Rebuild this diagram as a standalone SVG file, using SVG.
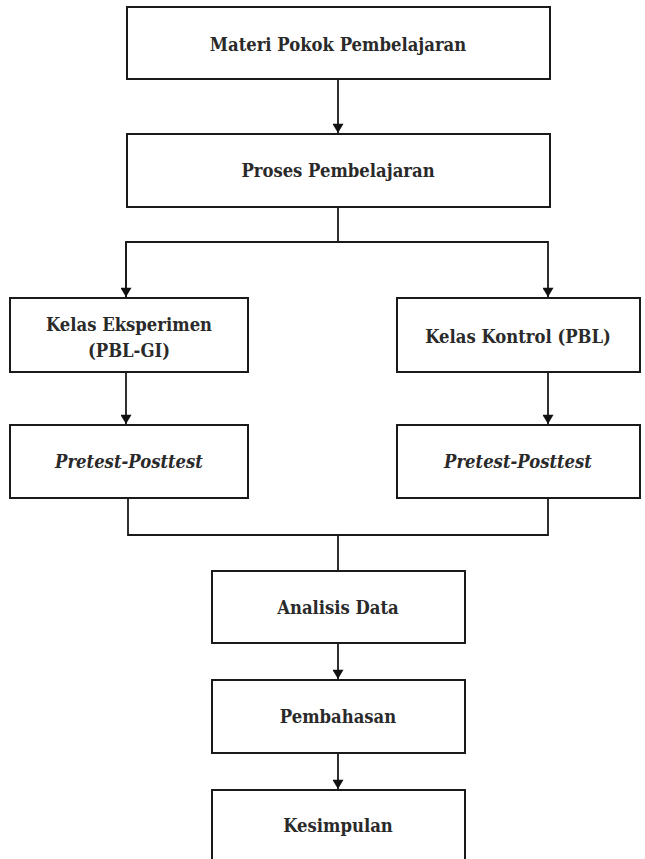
<svg xmlns="http://www.w3.org/2000/svg" width="645" height="859" viewBox="0 0 645 859">
<defs>
<style>
.box{fill:#fff;stroke:#1a1a1a;stroke-width:2}
.ln{fill:none;stroke:#1a1a1a;stroke-width:1.8}
.t{font-family:"DejaVu Serif Condensed","DejaVu Serif","Liberation Serif",serif;font-weight:bold;font-size:18.3px;fill:#2a2a2a;text-anchor:middle;dominant-baseline:central}
.i{font-style:italic}
</style>
<marker id="ah" viewBox="0 0 10 12" refX="10" refY="6" markerWidth="12" markerHeight="11" markerUnits="userSpaceOnUse" orient="auto">
<path d="M0,0 L10,6 L0,12 z" fill="#111"/>
</marker>
</defs>
<rect width="645" height="859" fill="#fff"/>
<g id="connectors">
<line class="ln" x1="338" y1="79" x2="338" y2="133" marker-end="url(#ah)"/>
<polyline class="ln" points="338,207 338,242"/>
<polyline class="ln" points="126,297 126,242 548,242 548,297" marker-end="url(#ah)"/>
<line class="ln" x1="126" y1="242" x2="126" y2="297" marker-end="url(#ah)"/>
<line class="ln" x1="126" y1="372" x2="126" y2="424" marker-end="url(#ah)"/>
<line class="ln" x1="548" y1="372" x2="548" y2="424" marker-end="url(#ah)"/>
<polyline class="ln" points="128,498 128,535 548,535 548,498"/>
<line class="ln" x1="338" y1="535" x2="338" y2="570"/>
<line class="ln" x1="338" y1="643" x2="338" y2="679" marker-end="url(#ah)"/>
<line class="ln" x1="338" y1="753" x2="338" y2="789" marker-end="url(#ah)"/>
</g>
<g id="materi"><rect class="box" x="127" y="7" width="423" height="72"/><text class="t" x="338" y="44">Materi Pokok Pembelajaran</text></g>
<g id="proses"><rect class="box" x="127" y="134" width="423" height="73"/><text class="t" x="338" y="170">Proses Pembelajaran</text></g>
<g id="eksperimen"><rect class="box" x="10" y="298" width="238" height="74"/><text class="t" x="129" y="324">Kelas Eksperimen</text><text class="t" x="129" y="350">(PBL-GI)</text></g>
<g id="kontrol"><rect class="box" x="397" y="298" width="243" height="74"/><text class="t" x="518" y="336">Kelas Kontrol (PBL)</text></g>
<g id="pretest1"><rect class="box" x="10" y="425" width="238" height="73"/><text class="t i" x="129" y="461">Pretest-Posttest</text></g>
<g id="pretest2"><rect class="box" x="397" y="425" width="243" height="73"/><text class="t i" x="518" y="461">Pretest-Posttest</text></g>
<g id="analisis"><rect class="box" x="212" y="571" width="253" height="72"/><text class="t" x="338" y="607">Analisis Data</text></g>
<g id="pembahasan"><rect class="box" x="212" y="680" width="253" height="73"/><text class="t" x="338" y="716">Pembahasan</text></g>
<g id="kesimpulan"><rect class="box" x="212" y="790" width="253" height="80"/><text class="t" x="338" y="825">Kesimpulan</text></g>
</svg>
